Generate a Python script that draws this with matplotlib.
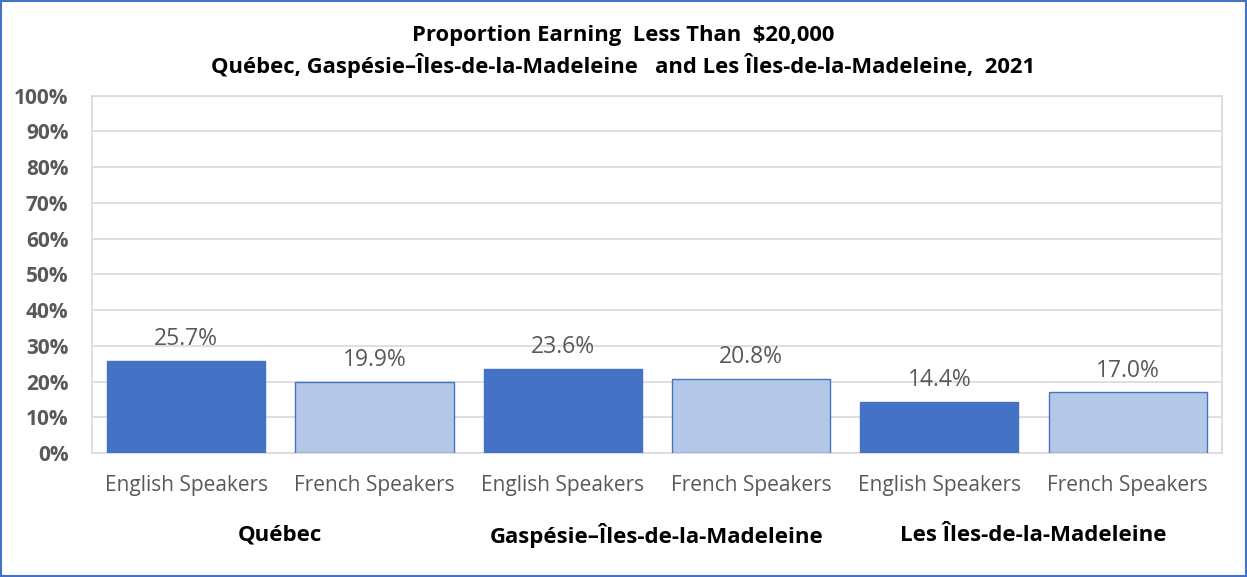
import matplotlib.pyplot as plt
from matplotlib.patches import Rectangle
from matplotlib.ticker import PercentFormatter

# values
regions = ["Québec", "Gaspésie\u2013Îles-de-la-Madeleine", "Les Îles-de-la-Madeleine"]
speakers = ["English Speakers", "French Speakers"]
values = [25.7, 19.9, 23.6, 20.8, 14.4, 17.0]

dark = "#4472C4"
light = "#B4C7E7"
grey = "#595959"

plt.rcParams['font.family'] = ['Open Sans', 'DejaVu Sans']

fig = plt.figure(figsize=(12.47, 5.77), dpi=100)
ax = fig.add_axes([0.0738, 0.215, 0.906, 0.619])

x = list(range(len(values)))
colors = [dark if i % 2 == 0 else light for i in x]
bars = ax.bar(x, values, width=0.84, color=colors, edgecolor=dark, linewidth=1, zorder=3)

for b, v in zip(bars, values):
    ax.annotate(f"{v:.1f}%", (b.get_x() + b.get_width() / 2, v), xytext=(0, 7),
                textcoords="offset points", ha="center", va="bottom",
                fontsize=16.5, color=grey)

ax.set_xlim(-0.5, len(values) - 0.5)
ax.set_ylim(0, 100)
ax.set_yticks(range(0, 101, 10))
ax.yaxis.set_major_formatter(PercentFormatter(decimals=0))
ax.grid(axis="y", color="#D9D9D9", linewidth=1.2, zorder=0)
for s in ax.spines.values():
    s.set_color("#D9D9D9")
    s.set_linewidth(1.2)
ax.tick_params(axis="y", length=0, pad=17, labelcolor=grey, labelsize=15)
for t in ax.get_yticklabels():
    t.set_fontweight("bold")

ax.set_xticks(x)
ax.set_xticklabels([speakers[i % 2] for i in x], fontsize=15, color=grey)
ax.tick_params(axis="x", length=0, pad=16)

for j, r in enumerate(regions):
    ax.text(2 * j + 0.5, -0.23, r, transform=ax.get_xaxis_transform(),
            ha="center", va="center", fontsize=16, fontweight="bold", color="black")

fig.text(0.5, 1 - 35 / 577, "Proportion Earning  Less Than  $20,000",
         ha="center", va="center", fontsize=15.8, fontweight="bold", color="black")
fig.text(0.5, 1 - 66 / 577,
         "Québec, Gaspésie\u2013Îles-de-la-Madeleine   and Les Îles-de-la-Madeleine,  2021",
         ha="center", va="center", fontsize=15.8, fontweight="bold", color="black")

fig.patches.append(Rectangle((0.001, 0.002), 0.998, 0.996, transform=fig.transFigure,
                             fill=False, edgecolor=dark, linewidth=1.5))

fig.savefig("out.png", dpi=100)
